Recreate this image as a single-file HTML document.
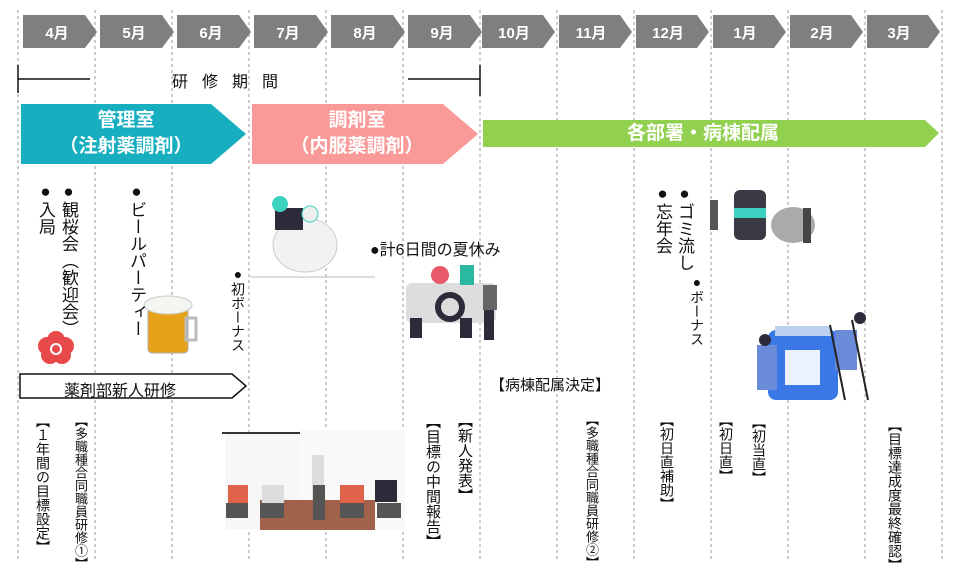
<!DOCTYPE html>
<html><head><meta charset="utf-8">
<style>
body{margin:0;width:960px;height:572px;background:#fff;overflow:hidden;position:relative;font-family:"Liberation Sans","Noto Sans CJK JP",sans-serif;color:#111}
.a{position:absolute;white-space:nowrap}
.v{position:absolute;writing-mode:vertical-rl;white-space:nowrap;line-height:1}
.m{position:absolute;color:#fff;font-weight:bold;font-size:15px;text-align:center;width:60px;top:22px}
.b{position:absolute;color:#fff;font-weight:bold;text-align:center;line-height:26px;font-size:19px}
</style></head><body>
<svg width="960" height="572" style="position:absolute;left:0;top:0">
<g stroke="#999" stroke-width="1" stroke-dasharray="3,3">
<line x1="18" y1="10" x2="18" y2="560"/><line x1="95" y1="10" x2="95" y2="560"/><line x1="172" y1="10" x2="172" y2="560"/><line x1="249" y1="10" x2="249" y2="560"/><line x1="326" y1="10" x2="326" y2="560"/><line x1="403" y1="10" x2="403" y2="560"/><line x1="480" y1="10" x2="480" y2="560"/><line x1="557" y1="10" x2="557" y2="560"/><line x1="634" y1="10" x2="634" y2="560"/><line x1="711" y1="10" x2="711" y2="560"/><line x1="788" y1="10" x2="788" y2="560"/><line x1="865" y1="10" x2="865" y2="560"/><line x1="942" y1="10" x2="942" y2="560"/>
</g>
<g fill="#7f7f7f">
<polygon points="23,15 85,15 97,32 85,48 23,48"/>
<polygon points="100,15 162,15 174,32 162,48 100,48"/>
<polygon points="177,15 239,15 251,32 239,48 177,48"/>
<polygon points="254,15 316,15 328,32 316,48 254,48"/>
<polygon points="331,15 393,15 405,32 393,48 331,48"/>
<polygon points="408,15 470,15 482,32 470,48 408,48"/>
<polygon points="482,15 543,15 555,32 543,48 482,48"/>
<polygon points="559,15 620,15 632,32 620,48 559,48"/>
<polygon points="636,15 697,15 709,32 697,48 636,48"/>
<polygon points="713,15 774,15 786,32 774,48 713,48"/>
<polygon points="790,15 851,15 863,32 851,48 790,48"/>
<polygon points="867,15 928,15 940,32 928,48 867,48"/>
</g>
<g stroke="#111" stroke-width="1.5">
<line x1="18" y1="65" x2="18" y2="93"/><line x1="18" y1="79" x2="90" y2="79"/>
<line x1="408" y1="79" x2="480" y2="79"/><line x1="480" y1="65" x2="480" y2="96"/>
</g>
<polygon points="21,104 211,104 246,134 211,164 21,164" fill="#17aebf"/>
<polygon points="252,104 443,104 478,134 443,164 252,164" fill="#f99a98"/>
<polygon points="483,120 925,120 939,133 925,147 483,147" fill="#92d050"/>
<polygon points="20,374 232,374 246,386 232,398 20,398" fill="#fff" stroke="#111" stroke-width="1.5"/>
<!-- flower -->
<g fill="#e84a4a"><circle cx="56" cy="340" r="9"/><circle cx="47" cy="346" r="9"/><circle cx="65" cy="346" r="9"/><circle cx="50" cy="355" r="9"/><circle cx="62" cy="355" r="9"/></g>
<circle cx="56" cy="349" r="5" fill="none" stroke="#fff" stroke-width="2"/>
<!-- beer -->
<rect x="148" y="308" width="40" height="45" rx="4" fill="#e8a21a" stroke="#aaa"/><rect x="186" y="318" width="10" height="22" fill="none" stroke="#bbb" stroke-width="3"/>
<ellipse cx="168" cy="305" rx="24" ry="9" fill="#f4f4f0" stroke="#ccc"/>
<!-- piggy -->
<ellipse cx="305" cy="245" rx="32" ry="27" fill="#f2f2f2" stroke="#ccc"/><line x1="250" y1="277" x2="375" y2="277" stroke="#bbb"/>
<rect x="275" y="208" width="28" height="22" fill="#2d2b3a"/><circle cx="280" cy="204" r="8" fill="#3ed1c1"/><circle cx="310" cy="214" r="8" fill="#eee" stroke="#3ed1c1"/>
<!-- car -->
<rect x="406" y="283" width="90" height="40" rx="6" fill="#ddd"/><circle cx="450" cy="307" r="12" fill="none" stroke="#2d2b3a" stroke-width="6"/>
<rect x="410" y="318" width="12" height="20" fill="#2d2b3a"/><rect x="460" y="318" width="12" height="20" fill="#2d2b3a"/>
<circle cx="440" cy="275" r="9" fill="#e85a6a"/><rect x="460" y="265" width="14" height="20" fill="#2ab8a0"/><rect x="483" y="285" width="14" height="25" fill="#666"/><rect x="484" y="310" width="10" height="30" fill="#2d2b3a"/>
<!-- presentation -->
<rect x="222" y="432" width="78" height="2" fill="#333"/><rect x="225" y="434" width="75" height="95" fill="#f7f7f7"/><rect x="300" y="430" width="105" height="100" fill="#f9f9f9"/>
<rect x="260" y="500" width="115" height="30" fill="#a0624a"/>
<rect x="312" y="455" width="12" height="45" fill="#ddd"/><rect x="313" y="485" width="12" height="35" fill="#555"/>
<rect x="228" y="485" width="20" height="18" fill="#e0624a"/><rect x="226" y="503" width="22" height="15" fill="#555"/>
<rect x="262" y="485" width="22" height="18" fill="#ddd"/><rect x="260" y="503" width="24" height="15" fill="#555"/>
<rect x="340" y="485" width="24" height="18" fill="#e0624a"/><rect x="340" y="503" width="24" height="15" fill="#555"/>
<rect x="375" y="480" width="22" height="22" fill="#2d2b3a"/><rect x="377" y="503" width="24" height="15" fill="#555"/>
<!-- gomi -->
<rect x="734" y="190" width="32" height="50" rx="6" fill="#3a3a44"/><rect x="734" y="208" width="32" height="10" fill="#3ed1c1"/>
<ellipse cx="793" cy="225" rx="22" ry="18" fill="#aaa"/><rect x="803" y="208" width="8" height="35" fill="#444"/><rect x="710" y="200" width="8" height="30" fill="#555"/>
<!-- bottle -->
<rect x="768" y="330" width="70" height="70" rx="8" fill="#3b78e7"/><rect x="775" y="326" width="56" height="10" fill="#bcd0f0"/><rect x="785" y="350" width="35" height="35" fill="#fff" opacity=".9"/>
<rect x="757" y="345" width="20" height="45" fill="#6a8cd8"/><circle cx="765" cy="340" r="6" fill="#2d2b3a"/>
<rect x="835" y="330" width="22" height="40" fill="#6a8cd8"/><circle cx="860" cy="318" r="6" fill="#2d2b3a"/>
<line x1="830" y1="325" x2="845" y2="400" stroke="#222" stroke-width="2"/><line x1="852" y1="320" x2="868" y2="400" stroke="#222" stroke-width="2"/>
</svg>

<div class="m" style="left:27px">4月</div><div class="m" style="left:104px">5月</div><div class="m" style="left:181px">6月</div><div class="m" style="left:258px">7月</div><div class="m" style="left:335px">8月</div><div class="m" style="left:412px">9月</div>
<div class="m" style="left:484px">10月</div><div class="m" style="left:561px">11月</div><div class="m" style="left:638px">12月</div><div class="m" style="left:715px">1月</div><div class="m" style="left:792px">2月</div><div class="m" style="left:869px">3月</div>

<div class="a" style="left:172px;top:68px;font-size:16px;letter-spacing:14px">研修期間</div>
<div class="b" style="left:21px;top:108px;width:210px">管理室<br>（注射薬調剤）</div>
<div class="b" style="left:252px;top:108px;width:210px">調剤室<br>（内服薬調剤）</div>
<div class="b" style="left:483px;top:120px;width:440px;line-height:27px">各部署・病棟配属</div>

<div class="v" style="left:37px;top:182px;font-size:17px">●入局</div>
<div class="v" style="left:60px;top:182px;font-size:17px">●観桜会（歓迎会）</div>
<div class="v" style="left:128px;top:182px;font-size:17px">●ビールパーティー</div>
<div class="v" style="left:231px;top:266px;font-size:14px">●初ボーナス</div>
<div class="a" style="left:370px;top:236px;font-size:16px">●計6日間の夏休み</div>
<div class="v" style="left:654px;top:184px;font-size:17px">●忘年会</div>
<div class="v" style="left:676px;top:184px;font-size:17px">●ゴミ流し</div>
<div class="v" style="left:690px;top:274px;font-size:14px">●ボーナス</div>
<div class="a" style="left:64px;top:377px;font-size:16px">薬剤部新人研修</div>
<div class="a" style="left:490px;top:374px;font-size:15px">【病棟配属決定】</div>

<div class="v" style="left:36px;top:414px;font-size:14px">【１年間の目標設定】</div>
<div class="v" style="left:74px;top:414px;font-size:13px">【多職種合同職員研修①】</div>
<div class="v" style="left:425px;top:414px;font-size:15px">【目標の中間報告】</div>
<div class="v" style="left:457px;top:413px;font-size:15px">【新人発表】</div>
<div class="v" style="left:585px;top:413px;font-size:13px">【多職種合同職員研修②】</div>
<div class="v" style="left:660px;top:413px;font-size:14px">【初日直補助】</div>
<div class="v" style="left:719px;top:413px;font-size:14px">【初日直】</div>
<div class="v" style="left:752px;top:415px;font-size:14px">【初当直】</div>
<div class="v" style="left:888px;top:418px;font-size:14px">【目標達成度最終確認】</div>
</body></html>
